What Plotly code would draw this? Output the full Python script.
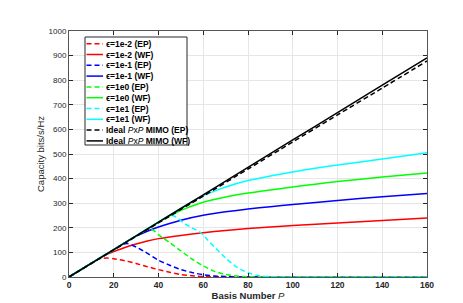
import plotly.graph_objects as go

# ---------------- data ----------------
p_ideal = [0, 20, 40, 60, 80, 100, 120, 140, 160]
c_ideal_wf = [0, 111, 223, 334, 446, 557, 668, 780, 891]
c_ideal_ep = [0, 110, 220, 329, 439, 549, 659, 768, 878]

p_r_ep = [0, 5, 10, 13, 15, 17, 20, 25, 30, 35, 40, 45, 50, 55, 60, 70, 80, 100, 120, 140, 160]
c_r_ep = [0, 28, 56, 72, 76, 77, 74, 66, 55, 42, 30, 19, 10, 5, 2, 0.3, 0, 0, 0, 0, 0]
p_r_wf = [0, 10, 14, 17, 20, 25, 30, 35, 40, 50, 60, 70, 80, 90, 100, 120, 140, 160]
c_r_wf = [0, 56, 78, 92, 103, 120, 134, 146, 156, 169, 180, 189, 197, 203, 209, 220, 230, 240]

p_b_ep = [0, 10, 20, 24, 26, 28, 30, 34, 40, 45, 50, 55, 60, 65, 70, 80, 100, 160]
c_b_ep = [0, 56, 111, 133, 136, 130, 122, 102, 68, 48, 30, 18, 9, 4, 2, 0, 0, 0]
p_b_wf = [0, 20, 28, 30, 35, 40, 50, 60, 70, 80, 90, 100, 120, 140, 160]
c_b_wf = [0, 111, 156, 166, 186, 203, 231, 251, 265, 276, 286, 295, 311, 326, 339]

p_g_ep = [0, 20, 34, 36, 38, 40, 45, 50, 55, 60, 65, 70, 75, 80, 90, 160]
c_g_ep = [0, 111, 189, 196, 188, 172, 140, 106, 73, 45, 23, 10, 4, 1, 0, 0]
p_g_wf = [0, 20, 40, 44, 48, 52, 56, 60, 70, 80, 90, 100, 110, 120, 140, 160]
c_g_wf = [0, 111, 223, 244, 262, 278, 292, 304, 325, 341, 354, 366, 377, 388, 406, 423]

p_c_ep = [0, 20, 40, 45, 47, 49, 52, 55, 59, 62, 65, 70, 75, 80, 85, 90, 100, 160]
c_c_ep = [0, 111, 223, 250, 248, 236, 215, 200, 179, 150, 122, 77, 40, 17, 5, 1, 0, 0]
p_c_wf = [0, 20, 40, 55, 60, 65, 70, 80, 90, 100, 110, 120, 140, 160]
c_c_wf = [0, 111, 223, 306, 330, 349, 366, 392, 411, 427, 442, 455, 480, 505]

x_ticks = [0, 20, 40, 60, 80, 100, 120, 140, 160]
y_ticks = [0, 100, 200, 300, 400, 500, 600, 700, 800, 900, 1000]

names = ["ϵ=1e-2 (EP)", "ϵ=1e-2 (WF)", "ϵ=1e-1 (EP)", "ϵ=1e-1 (WF)",
         "ϵ=1e0 (EP)", "ϵ=1e0 (WF)", "ϵ=1e1 (EP)", "ϵ=1e1 (WF)",
         "Ideal <i>P</i>x<i>P</i> MIMO (EP)", "Ideal <i>P</i>x<i>P</i> MIMO (WF)"]

# ---------------- styling ----------------
DASH = "5px,3px"
series = [
    (p_r_ep, c_r_ep, "#ff0000", DASH),
    (p_r_wf, c_r_wf, "#ff0000", "solid"),
    (p_b_ep, c_b_ep, "#0000ff", DASH),
    (p_b_wf, c_b_wf, "#0000ff", "solid"),
    (p_g_ep, c_g_ep, "#00ff00", DASH),
    (p_g_wf, c_g_wf, "#00ff00", "solid"),
    (p_c_ep, c_c_ep, "#00ffff", DASH),
    (p_c_wf, c_c_wf, "#00ffff", "solid"),
    (p_ideal, c_ideal_ep, "#000000", DASH),
    (p_ideal, c_ideal_wf, "#000000", "solid"),
]

FONT = "Liberation Sans, Arial, Helvetica, sans-serif"
W, H = 463, 303
L, R, T, B = 61, 44, 23, 34

fig = go.Figure()
for (px_, py_, col, dash), nm in zip(series, names):
    fig.add_trace(go.Scatter(x=px_, y=py_, mode="lines", name=nm,
                             line=dict(color=col, width=1.5, dash=dash,
                                       shape="spline", smoothing=0.6),
                             showlegend=False))

# ---------------- manual legend (compact, MATLAB-like) ----------------
pw, ph = W - L - R, H - T - B
def fx(px):
    return (px - L) / pw
def fy(py):
    return (H - B - py) / ph

shapes = [dict(type="rect", xref="paper", yref="paper",
               x0=fx(77), x1=fx(179), y0=fy(29), y1=fy(137),
               line=dict(color="#262626", width=1), fillcolor="white", layer="above")]
annotations = []
for i, ((_, _, col, dash), nm) in enumerate(zip(series, names)):
    cy = 35.7 + 10.8 * i
    shapes.append(dict(type="line", xref="paper", yref="paper",
                       x0=fx(78.5), x1=fx(95), y0=fy(cy), y1=fy(cy),
                       line=dict(color=col, width=1.5, dash=dash), layer="above"))
    if "Ideal" in nm:
        txt = nm.replace("Ideal ", "<b>Ideal</b> ").replace(" MIMO", " <b>MIMO</b>")
        txt = txt.replace("(EP)", "<b>(EP)</b>").replace("(WF)", "<b>(WF)</b>")
    else:
        txt = "<b>" + nm + "</b>"
    annotations.append(dict(xref="paper", yref="paper", x=fx(96), y=fy(cy),
                            xanchor="left", yanchor="middle", showarrow=False,
                            text=txt, font=dict(family=FONT, size=8.5, color="#000000")))

fig.update_layout(
    width=W, height=H,
    margin=dict(l=L, r=R, t=T, b=B, pad=0, autoexpand=False),
    paper_bgcolor="white", plot_bgcolor="white",
    font=dict(family=FONT, color="#262626"),
    shapes=shapes, annotations=annotations,
    showlegend=False,
)
fig.update_xaxes(range=[0, 160], tickvals=x_ticks, ticktext=[str(v) for v in x_ticks],
                 automargin=False,
                 ticks="inside", ticklen=4, tickcolor="#262626",
                 showline=True, linecolor="#555555", linewidth=1, mirror="ticks",
                 showgrid=True, gridcolor="#e6e6e6", gridwidth=1, zeroline=False,
                 tickfont=dict(family=FONT, size=8.5, color="#262626", weight="bold"),
                 title=dict(text="<b>Basis Number</b> <i>P</i>", standoff=3,
                            font=dict(family=FONT, size=9.5, color="#262626")))
fig.update_yaxes(range=[0, 1000], tickvals=y_ticks, ticktext=[str(v) for v in y_ticks],
                 automargin=False,
                 ticks="inside", ticklen=4, tickcolor="#262626",
                 showline=True, linecolor="#555555", linewidth=1, mirror="ticks",
                 showgrid=True, gridcolor="#e6e6e6", gridwidth=1, zeroline=False,
                 tickfont=dict(family=FONT, size=8, color="#262626"),
                 title=dict(text="Capacity bits/s/Hz", standoff=2,
                            font=dict(family=FONT, size=9.5, color="#262626")))

fig.write_html("out.html")
